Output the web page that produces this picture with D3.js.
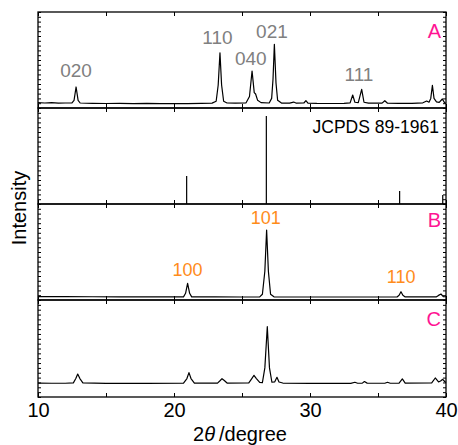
<!DOCTYPE html>
<html><head><meta charset="utf-8">
<script src="https://cdn.jsdelivr.net/npm/d3@7"></script>
<style>
body{margin:0;background:#fff;}
svg{display:block;font-family:"Liberation Sans",Arial,sans-serif;}
</style></head>
<body>
<svg id="chart" width="458" height="445"></svg>
<script>
// ---- data ----
const xTickLabels = [10, 20, 30, 40];
const xTickAll = [10, 15, 20, 25, 30, 35, 40];

const patternA = [
[10.0,5.6],[10.5,5.2],[11.0,5.5],[11.5,5.0],[12.0,5.2],[12.5,5.3],[12.65,8],[12.8,21.9],[12.95,8],[13.1,5.2],
[14,4.9],[15,4.7],[16,4.9],[17,4.6],[18,4.8],[19,4.5],[20,4.7],[21,4.5],[22,4.8],[22.8,5.1],
[23.1,7],[23.25,24],[23.38,57.5],[23.5,24],[23.65,7],[23.9,5.2],[24.5,5.0],[25.3,5.4],
[25.55,12],[25.74,38.5],[25.9,16],[26.0,14.6],[26.15,8],[26.4,5.6],[27.0,5.2],
[27.18,10],[27.28,30],[27.38,66.4],[27.5,26],[27.62,8],[27.9,5.1],[28.5,5.0],[28.8,6.2],[29.0,5.0],
[29.55,5.2],[29.7,7.6],[29.85,5.1],[30.5,4.8],[31.5,4.7],[32.5,4.9],[32.95,5.4],[33.14,13.5],[33.3,6],
[33.55,5.6],[33.8,19.5],[33.97,6],[34.3,5.0],[35.3,5.1],[35.5,7.6],[35.7,5.0],[36.5,4.8],[37.5,4.9],
[38.3,5.4],[38.58,7.3],[38.75,6.0],[38.88,10],[39.0,23.6],[39.12,10],[39.3,6.3],[39.5,5.8],[39.73,9.4],[39.9,5.3],[40.0,5.0]
];

const sticksJCPDS = [[20.93,29.2],[26.79,91.7],[36.59,13.5],[39.76,9.4]];

const patternB = [
[10,3.6],[12,3.5],[14,3.4],[16,3.3],[18,3.2],[20,3.2],[20.7,3.3],[20.85,7],[21.0,17.4],[21.15,7],[21.3,3.3],
[23,3.2],[25,3.1],[26.3,3.2],[26.5,6],[26.68,30],[26.81,72.9],[26.94,30],[27.1,6],[27.35,3.3],
[30,3.1],[33,3.1],[36.4,3.2],[36.55,5],[36.69,8.6],[36.83,5],[37,3.2],[39.3,3.3],[39.45,4.8],[39.63,6.25],[39.8,3.6],[40,3.4]
];

const patternC = [
[10,14.3],[11,14.2],[12,14.2],[12.6,14.6],[12.78,19],[12.92,23.7],[13.08,19],[13.3,14.6],[15,14.1],[18,14.0],
[20.7,14.2],[20.95,19],[21.1,25.1],[21.25,19],[21.5,14.3],[23.2,14.3],[23.4,17],[23.53,18.9],[23.7,17],[23.9,14.4],
[25.5,14.5],[25.72,19],[25.88,22.4],[26.06,19],[26.3,15],[26.5,14.8],[26.68,30],[26.86,72.5],[27.02,30],[27.2,15.2],
[27.4,15.5],[27.57,20.3],[27.72,15.5],[28,14.4],[30,14.1],[33,14.1],[33.3,15.2],[33.5,14.2],[33.85,14.3],[34.0,15.9],
[34.2,14.3],[35.5,14.2],[35.7,15.2],[35.9,14.2],[36.55,14.3],[36.79,18.6],[37.0,14.3],[38.95,14.6],[39.21,19.6],
[39.45,15.5],[39.6,16.5],[39.76,18.2],[39.9,16],[40,15]
];

const labelsA = [["020",12.8,32.8],["110",23.2,66.7],["040",25.65,44.5],["021",27.2,73.3],["111",33.6,28.1]];
const labelsB = [["100",21.0,25],["101",26.75,78.8],["110",36.7,17.4]];
const panelNames = ["A", "", "B", "C"];
const refLabel = "JCPDS 89-1961";

// ---- layout ----
const svg = d3.select("#chart");
const x = d3.scaleLinear().domain([10, 40]).range([38, 446]);
const edges = [12, 108, 204, 300, 397];
const ys = [0,1,2,3].map(i => d3.scaleLinear().domain([0, 100]).range([edges[i+1], edges[i]]));

const gray = "#808080", orange = "#ff8c1a", pink = "#ff1493";

ys.forEach((y, i) => {
  const g = svg.append("g");
  const yt = d3.range(0, 101, 5);
  g.append("g").attr("transform", `translate(${x(10)},0)`)
    .call(d3.axisLeft(y).tickValues(yt).tickSize(-3).tickFormat(""))
    .call(s => s.select(".domain").remove());
  g.append("g").attr("transform", `translate(${x(40)},0)`)
    .call(d3.axisRight(y).tickValues(yt).tickSize(-3).tickFormat(""))
    .call(s => s.select(".domain").remove());
  g.append("g").attr("transform", `translate(0,${edges[i+1]})`)
    .call(d3.axisBottom(x).tickValues(xTickAll).tickSize(-4).tickFormat(""))
    .call(s => s.select(".domain").remove());
  g.append("g").attr("transform", `translate(0,${edges[i]})`)
    .call(d3.axisTop(x).tickValues(xTickAll).tickSize(-4).tickFormat(""))
    .call(s => s.select(".domain").remove());
  g.selectAll(".tick line").attr("stroke", "#000").attr("stroke-width", 1);
  g.append("rect").attr("x", x(10)).attr("y", edges[i]).attr("width", x(40) - x(10))
    .attr("height", edges[i+1] - edges[i]).attr("fill", "none").attr("stroke", "#000").attr("stroke-width", 1.3);
});

const line = (y) => d3.line().x(d => x(d[0])).y(d => y(d[1]));
[[patternA,0],[patternB,2],[patternC,3]].forEach(([data, i]) => {
  svg.append("path").datum(data).attr("d", line(ys[i])).attr("fill", "none")
    .attr("stroke", "#000").attr("stroke-width", 1.2).attr("stroke-linejoin", "round");
});
svg.append("g").selectAll("line").data(sticksJCPDS).join("line")
  .attr("x1", d => x(d[0])).attr("x2", d => x(d[0]))
  .attr("y1", ys[1](0)).attr("y2", d => ys[1](d[1]))
  .attr("stroke", "#000").attr("stroke-width", 1.2);

svg.append("g").selectAll("text").data(labelsA).join("text")
  .attr("x", d => x(d[1])).attr("y", d => ys[0](d[2])).attr("text-anchor", "middle")
  .attr("font-size", 19).attr("fill", gray).text(d => d[0]);
svg.append("g").selectAll("text").data(labelsB).join("text")
  .attr("x", d => x(d[1])).attr("y", d => ys[2](d[2])).attr("text-anchor", "middle")
  .attr("font-size", 18).attr("fill", orange).text(d => d[0]);

const letterY = [72.9, 0, 76, 73.2];
panelNames.forEach((t, i) => {
  if (!t) return;
  svg.append("text").attr("x", x(40) - 5).attr("y", ys[i](letterY[i])).attr("text-anchor", "end")
    .attr("font-size", 20).attr("fill", pink).text(t);
});
svg.append("text").attr("x", x(40) - 7).attr("y", ys[1](74)).attr("text-anchor", "end")
  .attr("font-size", 17.5).attr("fill", "#000").text(refLabel);

const ax = svg.append("g").attr("transform", `translate(0,${edges[4]})`)
  .call(d3.axisBottom(x).tickValues(xTickLabels).tickSize(0).tickPadding(6).tickFormat(d3.format("d")));
ax.select(".domain").remove();
ax.selectAll("text").attr("font-size", 20).attr("fill", "#000").attr("font-family", '"Liberation Sans",Arial,sans-serif');

const xt = svg.append("text").attr("x", 240).attr("y", 441).attr("text-anchor", "middle").attr("font-size", 20);
xt.append("tspan").text("2");
xt.append("tspan").attr("font-style", "italic").text("θ");
xt.append("tspan").text("\u2009/degree");
svg.append("text").attr("transform", "translate(26,208) rotate(-90)").attr("text-anchor", "middle")
  .attr("font-size", 20).text("Intensity");
</script>
</body></html>
